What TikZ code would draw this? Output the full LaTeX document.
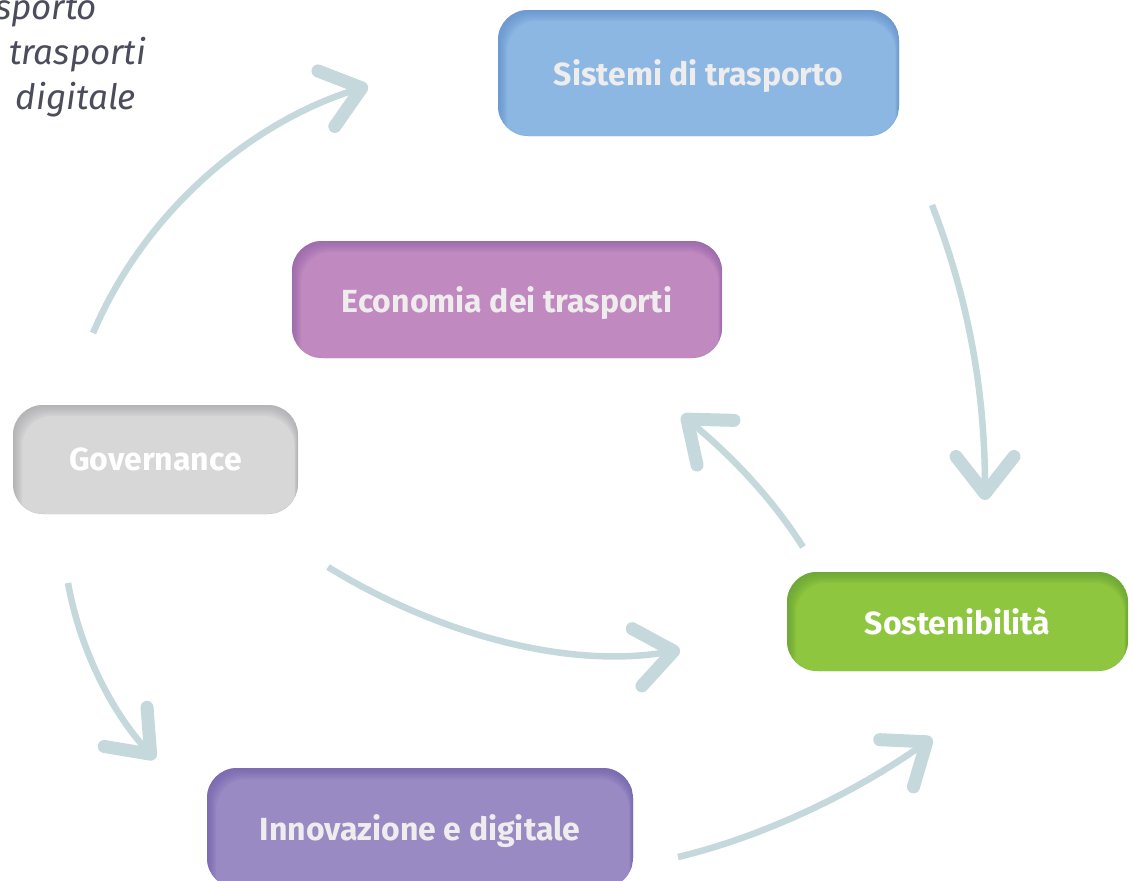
\documentclass[tikz,border=0pt]{standalone}
\usepackage{fontspec}
\setmainfont{Fira Sans}
\usetikzlibrary{arrows.meta}
\definecolor{arrowcol}{HTML}{C5D9DD}
\definecolor{notecol}{HTML}{4B4D5C}
\definecolor{sisfill}{HTML}{8CB7E3}\definecolor{sisedge}{HTML}{5A88C6}
\definecolor{ecofill}{HTML}{C089BF}\definecolor{ecoedge}{HTML}{8A5CA4}
\definecolor{govfill}{HTML}{D8D7D7}\definecolor{govedge}{HTML}{9E9DA3}
\definecolor{sosfill}{HTML}{8FC63F}\definecolor{sosedge}{HTML}{5A9634}
\definecolor{innfill}{HTML}{998AC4}\definecolor{innedge}{HTML}{6A58A6}
\definecolor{boxtext}{HTML}{EEECEC}
\begin{document}
\begin{tikzpicture}[x=1pt,y=-1pt,inner sep=0pt,outer sep=0pt,
topicbox/.style n args={3}{rectangle,rounded corners=30pt,fill=#1,text=#3,
  font=\bfseries\fontsize{32}{40}\selectfont,text depth=-3pt,
  path picture={\foreach \s in {1.5,3,...,9}
    \fill[#2,opacity=0.13,even odd rule] (path picture bounding box.north west) rectangle (path picture bounding box.south east)
      [rounded corners=30pt] ([shift={(\s,1.2*\s)}]path picture bounding box.north west) rectangle ([shift={(-0.4*\s,20)}]path picture bounding box.south east);}},
flowarrow/.style={draw=arrowcol,line width=6.5pt,-{Straight Barb[length=37pt,width=58pt,line width=13pt,round]}},
note/.style={anchor=base east,text=notecol,font=\itshape\fontsize{35}{40}\selectfont}]
\useasboundingbox (0,0) rectangle (1133,881);
\draw (698.5,73) node[topicbox={sisfill}{sisedge}{boxtext},minimum width=401pt,minimum height=126pt] (sis) {Sistemi di trasporto};
\draw (507,299.5) node[topicbox={ecofill}{ecoedge}{boxtext},minimum width=430pt,minimum height=117pt] (eco) {Economia dei trasporti};
\draw (155.5,459.5) node[topicbox={govfill}{govedge}{white},minimum width=285pt,minimum height=109pt] (gov) {Governance};
\draw (957.5,621.5) node[topicbox={sosfill}{sosedge}{white},minimum width=341pt,minimum height=99pt] (sos) {Sostenibilità};
\draw (420,828) node[topicbox={innfill}{innedge}{boxtext},minimum width=426pt,minimum height=120pt] (inn) {Innovazione e digitale};
\node[note] (note1) at (97,19) {sporto};
\node[note] (note2) at (146,64) {trasporti};
\node[note] (note3) at (136,109) {digitale};
\draw[flowarrow] ([shift={(-62.5,-72)}]gov.north) .. controls +(57,-133) and +(-105,32) .. ([shift={(-130,13)}]sis.west);
\draw[flowarrow] ([shift={(33,69)}]sis.south east) .. controls +(33,85) and +(0,-118) .. ([shift={(27.5,-72)}]sos.north);
\draw[flowarrow] ([shift={(16,-25)}]sos.north west) .. controls +(-33,-52) and +(46,38) .. ([shift={(-40,57)}]eco.south east);
\draw[flowarrow] ([shift={(30,53)}]gov.south east) .. controls +(102,63) and +(-118,20) .. ([shift={(-107,28.5)}]sos.west);
\draw[flowarrow] ([shift={(55,69)}]gov.south west) .. controls +(12,67) and +(-43,-47) .. ([shift={(-52,-9)}]inn.north west);
\draw[flowarrow] ([shift={(45,29)}]inn.east) .. controls +(92,-22) and +(-70,50) .. ([shift={(-25.5,67)}]sos.south);
\end{tikzpicture}
\end{document}
